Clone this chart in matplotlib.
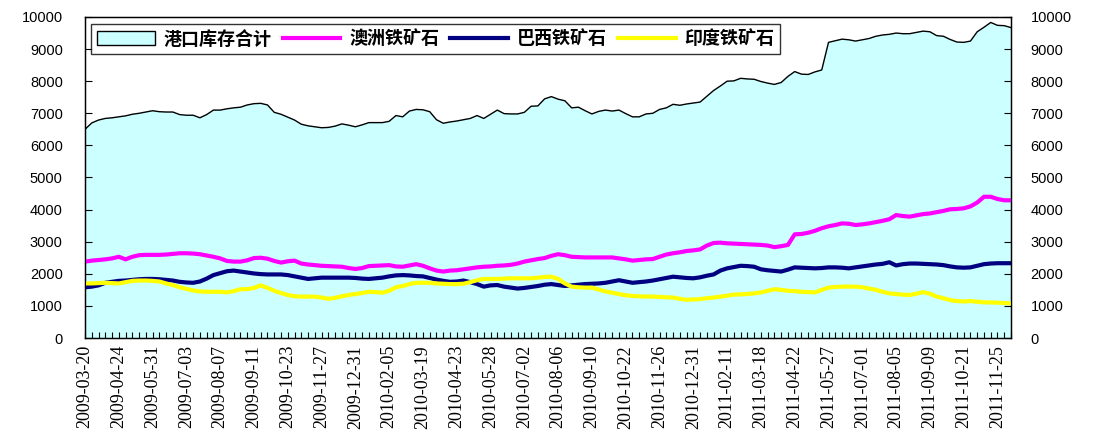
import matplotlib
matplotlib.use("Agg")
import matplotlib.pyplot as plt
from matplotlib.patches import Patch
from matplotlib.lines import Line2D
import numpy as np

plt.rcParams['font.family'] = ['Noto Sans CJK SC', 'DejaVu Sans']

tick_labels = ["2009-03-20", "2009-04-24", "2009-05-31", "2009-07-03", "2009-08-07",
               "2009-09-11", "2009-10-23", "2009-11-27", "2009-12-31", "2010-02-05",
               "2010-03-19", "2010-04-23", "2010-05-28", "2010-07-02", "2010-08-06",
               "2010-09-10", "2010-10-22", "2010-11-26", "2010-12-31", "2011-02-11",
               "2011-03-18", "2011-04-22", "2011-05-27", "2011-07-01", "2011-08-05",
               "2011-09-09", "2011-10-21", "2011-11-25"]

series_names = ["港口库存合计", "澳洲铁矿石", "巴西铁矿石", "印度铁矿石"]

total = [6500, 6700, 6790, 6840, 6860, 6890, 6920, 6970, 7000, 7040,
         7080, 7050, 7040, 7040, 6960, 6940, 6940, 6860, 6960, 7100,
         7100, 7140, 7170, 7190, 7260, 7300, 7310, 7260, 7030, 6970,
         6880, 6790, 6660, 6610, 6580, 6550, 6560, 6600, 6670, 6630,
         6580, 6640, 6710, 6710, 6710, 6750, 6930, 6890, 7070, 7120,
         7110, 7050, 6800, 6690, 6730, 6760, 6800, 6840, 6930, 6840,
         6970, 7100, 6990, 6980, 6980, 7030, 7220, 7230, 7450, 7520,
         7440, 7390, 7170, 7190, 7080, 6980, 7060, 7100, 7070, 7100,
         6990, 6890, 6890, 6980, 7000, 7120, 7170, 7280, 7250, 7290,
         7320, 7350, 7530, 7710, 7850, 8000, 8010, 8090, 8070, 8060,
         7990, 7940, 7900, 7960, 8150, 8300, 8220, 8210, 8290, 8350,
         9210, 9260, 9310, 9290, 9250, 9290, 9330, 9400, 9440, 9460,
         9500, 9480, 9480, 9520, 9560, 9540, 9420, 9400, 9300, 9220,
         9210, 9250, 9540, 9680, 9830, 9740, 9730, 9670]

australia = [2380, 2410, 2430, 2450, 2480, 2530, 2450, 2530, 2580, 2590,
             2590, 2590, 2600, 2620, 2640, 2640, 2630, 2610, 2570, 2530,
             2480, 2400, 2380, 2380, 2420, 2490, 2500, 2470, 2400, 2350,
             2390, 2410, 2320, 2290, 2270, 2250, 2240, 2230, 2220, 2180,
             2150, 2180, 2240, 2250, 2260, 2270, 2230, 2220, 2260, 2300,
             2250, 2170, 2100, 2070, 2100, 2110, 2140, 2170, 2200, 2220,
             2230, 2250, 2260, 2280, 2320, 2380, 2420, 2460, 2490, 2560,
             2610, 2580, 2530, 2520, 2510, 2510, 2510, 2510, 2510, 2480,
             2450, 2410, 2430, 2450, 2460, 2530, 2600, 2640, 2670, 2710,
             2730, 2760, 2880, 2960, 2970, 2950, 2940, 2930, 2920, 2910,
             2900, 2880, 2830, 2860, 2900, 3230, 3240, 3280, 3340, 3420,
             3480, 3520, 3570, 3560, 3520, 3540, 3570, 3610, 3650, 3700,
             3830, 3800, 3780, 3820, 3860, 3880, 3920, 3960, 4010, 4020,
             4040, 4100, 4220, 4400, 4400, 4330, 4290, 4290]

brazil = [1580, 1600, 1640, 1720, 1750, 1780, 1790, 1810, 1830, 1840,
          1840, 1830, 1810, 1790, 1750, 1730, 1720, 1760, 1850, 1960,
          2020, 2080, 2100, 2070, 2040, 2010, 1990, 1980, 1980, 1980,
          1960, 1920, 1880, 1840, 1860, 1880, 1880, 1880, 1880, 1880,
          1870, 1850, 1840, 1860, 1880, 1920, 1950, 1960, 1950, 1930,
          1920, 1870, 1820, 1780, 1750, 1760, 1790, 1740, 1680, 1600,
          1640, 1650, 1600, 1570, 1540, 1560, 1590, 1620, 1660, 1680,
          1650, 1620, 1640, 1660, 1680, 1690, 1700, 1720, 1760, 1800,
          1760, 1720, 1740, 1760, 1790, 1830, 1870, 1910, 1890, 1870,
          1860, 1890, 1940, 1980, 2100, 2170, 2210, 2250, 2240, 2220,
          2140, 2110, 2090, 2070, 2130, 2200, 2190, 2180, 2170, 2180,
          2200, 2200, 2190, 2170, 2200, 2230, 2260, 2290, 2310, 2360,
          2260, 2300, 2320, 2320, 2310, 2300, 2290, 2270, 2230, 2200,
          2190, 2200, 2250, 2300, 2320, 2330, 2330, 2330]

india = [1700, 1700, 1710, 1720, 1710, 1700, 1740, 1780, 1790, 1790,
         1780, 1760, 1700, 1650, 1580, 1530, 1480, 1450, 1440, 1440,
         1440, 1420, 1460, 1520, 1520, 1560, 1640, 1560, 1470, 1400,
         1340, 1300, 1290, 1290, 1290, 1260, 1220, 1250, 1300, 1340,
         1370, 1400, 1440, 1430, 1410, 1470, 1580, 1620, 1680, 1720,
         1720, 1720, 1700, 1690, 1680, 1680, 1690, 1740, 1800, 1840,
         1840, 1840, 1850, 1860, 1860, 1860, 1860, 1880, 1900, 1910,
         1840, 1700, 1600, 1580, 1570, 1570, 1510, 1450, 1410, 1370,
         1330, 1310, 1300, 1290, 1290, 1280, 1270, 1260, 1220, 1190,
         1200, 1210, 1240, 1260, 1290, 1320, 1350, 1360, 1370, 1390,
         1420, 1470, 1520, 1500, 1470, 1460, 1440, 1430, 1420, 1500,
         1570, 1590, 1600, 1600, 1600, 1580, 1540, 1500, 1440, 1390,
         1370, 1350, 1340, 1380, 1430, 1380, 1290, 1240, 1180, 1150,
         1140, 1150, 1130, 1110, 1110, 1100, 1090, 1080]

yticks = [0, 1000, 2000, 3000, 4000, 5000, 6000, 7000, 8000, 9000, 10000]
label_step = 5

n = len(total)
x = np.arange(n)

fig = plt.figure(figsize=(10.97, 4.48), dpi=100)
ax = fig.add_axes([85/1097, 1-338/448, 926/1097, 321/448])

ax.fill_between(x, 0, total, facecolor='#CCFFFF', edgecolor='none', zorder=1)
ax.plot(x, total, color='black', lw=1.0, zorder=2)
ax.plot(x, australia, color='#FF00FF', lw=3.0, zorder=3, solid_capstyle='butt')
ax.plot(x, brazil, color='#000080', lw=3.0, zorder=3, solid_capstyle='butt')
ax.plot(x, india, color='#FFFF00', lw=3.0, zorder=3, solid_capstyle='butt')

ax.set_xlim(0, n - 1)
ax.set_ylim(0, 10000)
ax.set_yticks(yticks)
ax.set_yticklabels([str(v) for v in yticks], family=['Liberation Sans'], fontsize=10.5)
ax.tick_params(axis='y', direction='in', length=5, width=0.8, pad=16)

major_pos = np.arange(0, len(tick_labels) * label_step, label_step)
ax.set_xticks(major_pos)
ax.set_xticklabels(tick_labels, rotation=90, family=['Liberation Serif'], fontsize=13)
ax.set_xticks(x, minor=True)
ax.tick_params(axis='x', which='both', direction='in', length=4, width=0.8, pad=5)

for s in ax.spines.values():
    s.set_linewidth(1.0)
    s.set_color('black')

ax2 = ax.twinx()
ax2.set_ylim(0, 10000)
ax2.set_yticks(yticks)
ax2.set_yticklabels([str(v) for v in yticks], family=['Liberation Sans'], fontsize=10.5)
ax2.tick_params(axis='y', direction='in', length=5, width=0.8, pad=14)

handles = [Patch(facecolor='#CCFFFF', edgecolor='black', linewidth=1.0),
           Line2D([0], [0], color='#FF00FF', lw=3),
           Line2D([0], [0], color='#000080', lw=3),
           Line2D([0], [0], color='#FFFF00', lw=3)]
leg = ax.legend(handles, series_names, loc='upper left', bbox_to_anchor=(0.007, 0.978),
                ncol=4, frameon=True, fancybox=False, shadow=False,
                prop={'family': ['Noto Sans CJK SC'], 'weight': 'bold', 'size': 13},
                handlelength=3.2, handleheight=0.8, handletextpad=0.5, columnspacing=0.6,
                borderpad=0.3, borderaxespad=0)
leg.get_frame().set_edgecolor('black')
leg.get_frame().set_linewidth(1.0)
leg.get_frame().set_facecolor('white')

fig.savefig('out.png', dpi=100)
